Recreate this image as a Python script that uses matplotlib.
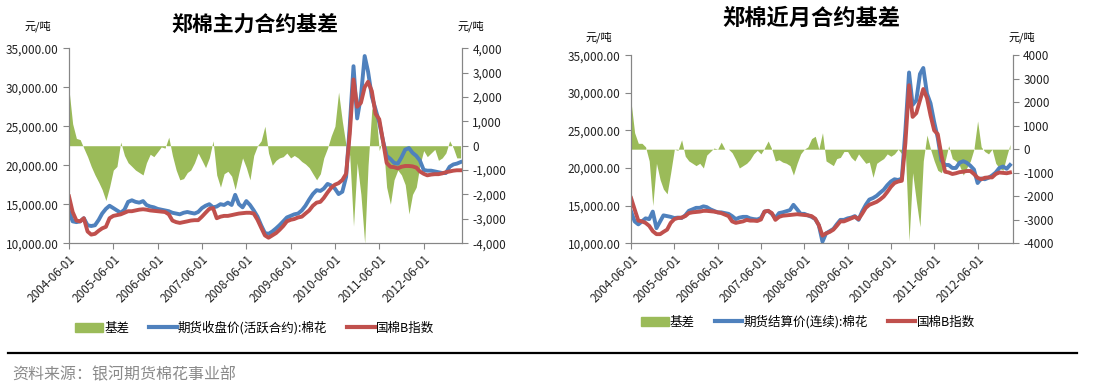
import matplotlib
matplotlib.use('Agg')
import matplotlib.pyplot as plt
from matplotlib.ticker import FuncFormatter
from matplotlib.patches import Patch
from matplotlib.lines import Line2D
import pandas as pd

plt.rcParams['font.family'] = ['Noto Sans CJK SC', 'DejaVu Sans']

GREEN = '#9bbb59'
BLUE = '#4f81bd'
RED = '#c0504d'
GRAY = '#868686'

# 郑棉主力合约: monthly readings 2004-06 .. 2013-04
main_fut = [14100, 12800, 12700, 12800, 13200, 12300, 12200, 12300, 13000, 13800,
            14400, 14800, 14500, 14200, 13900, 14300, 15300, 15500, 15300, 15200,
            15400, 14900, 14700, 14600, 14400, 14300, 14200, 14100, 13900, 13800,
            13700, 13900, 14000, 13900, 13800, 14000, 14500, 14800, 15000, 14600,
            14700, 15000, 14900, 15200, 14900, 16200, 15000, 14600, 15400, 14900,
            14200, 13400, 12300, 11300, 11200, 11500, 11900, 12300, 12800, 13300,
            13500, 13700, 13800, 14200, 14800, 15600, 16300, 16800, 16700, 17000,
            17600, 17400, 17000, 16300, 16600, 18500, 25000, 32700, 26000, 28800,
            34000, 32000, 28800, 27200, 25500, 23200, 21200, 20800, 20300, 20200,
            21000, 22000, 22200, 21600, 21200, 20600, 19400, 19300, 19300, 19200,
            19100, 19000, 19000, 19800, 20100, 20200, 20400]
main_idx = [16000, 14000, 12900, 12800, 13200, 11500, 11100, 11200, 11600, 11900,
            12100, 13200, 13500, 13600, 13700, 13900, 14100, 14100, 14200, 14300,
            14350, 14300, 14200, 14150, 14100, 14050, 14000, 13700, 12900, 12700,
            12600, 12700, 12800, 12900, 12950, 12950, 13400, 13900, 14400, 14500,
            13200, 13400, 13500, 13500, 13600, 13700, 13800, 13850, 13900, 13900,
            13800, 13000, 12000, 11000, 10700, 11000, 11300, 11700, 12200, 12800,
            13000, 13100, 13300, 13400, 13800, 14200, 14800, 15200, 15300, 15800,
            16500, 17100, 17500, 17700, 18100, 18900, 24000, 31000, 27500, 28000,
            30000, 30700, 29500, 26600, 25900, 23200, 20300, 19800, 19750, 19600,
            19800, 19900, 19900, 19850, 19700, 19200, 18900, 18700, 18800, 18850,
            18850, 18950, 19100, 19200, 19300, 19350, 19350]
main_basis = [2300, 900, 300, 250, -100, -450, -850, -1200, -1500, -1800,
              -2250, -1700, -1000, -850, 150, -400, -700, -850, -1000, -1100,
              -1200, -700, -350, -450, -250, -50, -100, 350, -400, -1000,
              -1400, -1350, -1100, -1000, -700, -300, -600, -900, -500, 200,
              -1200, -1700, -1150, -1050, -1250, -1800, -1100, -500, -900, -1400,
              -400, 0, 200, 800, -300, -800, -600, -500, -450, -300,
              -500, -400, -500, -650, -750, -900, -1150, -1400, -1150, -500,
              -100, 400, 800, 2200, 1000, 0, -400, -3300, -700, -2000,
              -4000, -800, 1500, 1600, -200, 300, -1700, -2400, -1400, -1000,
              -1200, -1600, -2800, -2000, -1700, -800, -200, -450, -300, -150,
              -600, -500, -300, 200, -100, -500, -500]

# 郑棉近月合约: monthly readings 2004-06 .. 2013-03
near_fut = [14200, 12900, 12500, 12900, 13300, 13200, 14200, 12000, 12900, 13700,
            13600, 13500, 13350, 13400, 13350, 13700, 14300, 14500, 14700, 14700,
            14900, 14800, 14500, 14300, 14100, 14100, 14000, 13900, 13600, 13200,
            13400, 13500, 13500, 13300, 13200, 13150, 13350, 14200, 14300, 13900,
            13350, 14000, 14100, 14250, 14400, 15100, 14500, 13900, 13900, 13700,
            13500, 13200, 12400, 10200, 11300, 11600, 11900, 12500, 13100, 13100,
            13300, 13400, 13600, 13100, 14200, 15100, 15800, 16000, 16300, 16700,
            17100, 17700, 18200, 18500, 18400, 18600, 25000, 32700, 28400, 29000,
            32500, 33300, 29900, 28600, 26100, 24000, 21000, 20400, 20400, 20000,
            20000, 20700, 20900, 20700, 20300, 19800, 18000, 18600, 18500, 18700,
            19000, 19400, 20000, 20200, 19900, 20400]
near_idx = [16000, 14500, 13000, 12900, 12700, 12300, 11600, 11200, 11200, 11500,
            11800, 12700, 13200, 13350, 13400, 13600, 14000, 14100, 14150, 14200,
            14300, 14300, 14250, 14200, 14100, 14000, 13800, 13600, 12900, 12700,
            12800, 12900, 13100, 13000, 13000, 12950, 13150, 14200, 14300, 14000,
            13100, 13500, 13650, 13700, 13750, 13800, 13850, 13800, 13750, 13700,
            13600, 13250, 12400, 11000, 11300, 11500, 11800, 12300, 12900, 12900,
            13100, 13300, 13500, 13200, 13900, 14700, 15100, 15300, 15500, 15800,
            16200, 16800, 17500, 18000, 18200, 18300, 23300, 31000, 26800, 27300,
            29000, 30500, 29300, 27000, 25000, 24500, 21700, 19500, 19400, 19200,
            19300, 19450, 19500, 19600, 19600, 19200, 18700, 18500, 18700, 18750,
            18750, 19200, 19400, 19350, 19300, 19400]
near_basis = [2000, 700, 250, 250, 100, -500, -2400, -600, -1300, -1700,
              -1900, -1000, 0, -50, 400, -300, -500, -600, -700, -600,
              -800, -250, -100, 50, 0, 300, 0, 0, -150, -450,
              -800, -700, -600, -450, -200, -50, -200, 50, 350, 0,
              -500, -450, -550, -600, -700, -1100, -600, -200, 0, 100,
              450, 550, 0, 700, -500, -600, -700, -400, -350, -100,
              -100, -350, -500, -200, -400, -600, -550, -1200, -600, -500,
              -400, -200, -300, -200, 0, -200, -100, -3900, -1000, -2200,
              -3300, -500, 600, 0, -500, -900, -1000, -500, 150, -400,
              -500, -700, -1100, -800, -500, 0, 1200, 100, -100, -200,
              0, -600, -800, -900, -300, 200]

tick_labels = ['2004-06-01', '2005-06-01', '2006-06-01', '2007-06-01', '2008-06-01',
               '2009-06-01', '2010-06-01', '2011-06-01', '2012-06-01']

fig = plt.figure(figsize=(11.13, 3.86), dpi=100)


def draw_panel(rect, fut, idx, basis, x_end, right_fmt):
    dates = pd.date_range('2004-06-01', periods=len(fut), freq='MS')
    ax = fig.add_axes(rect)
    axr = ax.twinx()
    # lines (left axis) on top of the basis area (right axis)
    ax.set_zorder(axr.get_zorder() + 1)
    ax.patch.set_visible(False)

    axr.fill_between(dates, 0, basis, color=GREEN, lw=0)
    ax.plot(dates, fut, color=BLUE, lw=2.8, solid_joinstyle='round')
    ax.plot(dates, idx, color=RED, lw=2.8, solid_joinstyle='round')

    ax.set_ylim(10000, 35000)
    ax.set_yticks(range(10000, 35001, 5000))
    ax.yaxis.set_major_formatter(FuncFormatter(lambda v, p: f'{v:,.2f}'))
    axr.set_ylim(-4000, 4000)
    axr.set_yticks(range(-4000, 4001, 1000))
    axr.yaxis.set_major_formatter(FuncFormatter(right_fmt))

    ax.set_xlim(pd.Timestamp('2004-06-01'), pd.Timestamp(x_end))
    ax.set_xticks(pd.to_datetime(tick_labels))
    ax.set_xticklabels(tick_labels, rotation=45, ha='right', rotation_mode='anchor')

    for a in (ax, axr):
        a.spines['top'].set_visible(False)
        for s in ('left', 'right', 'bottom'):
            a.spines[s].set_color(GRAY)
        a.tick_params(colors=GRAY, labelcolor='#222222', labelsize=8.5, length=4)
    ax.tick_params(axis='x', pad=3)
    return ax


draw_panel([0.062, 0.370, 0.353, 0.505], main_fut, main_idx, main_basis,
           '2013-04-12', lambda v, p: f'{v:,.0f}')
draw_panel([0.567, 0.370, 0.343, 0.487], near_fut, near_idx, near_basis,
           '2013-03-25', lambda v, p: f'{v:.0f}')

fig.text(0.229, 1 - 25 / 386, '郑棉主力合约基差', ha='center', va='center',
         fontsize=15, fontweight='bold')
fig.text(0.729, 1 - 18 / 386, '郑棉近月合约基差', ha='center', va='center',
         fontsize=16, fontweight='bold')
for x, y in [(38, 26), (471, 26), (599, 37), (1022, 37)]:
    fig.text(x / 1113, 1 - y / 386, '元/吨', ha='center', va='center', fontsize=8)


def legend(x, y, label):
    handles = [Patch(color=GREEN),
               Line2D([], [], color=BLUE, lw=3),
               Line2D([], [], color=RED, lw=3)]
    fig.legend(handles, ['基差', label, '国棉B指数'], loc='center',
               bbox_to_anchor=(x, y), ncol=3, frameon=False, fontsize=9,
               handlelength=2.2, handletextpad=0.1, columnspacing=1.6)


legend(0.229, 1 - 328 / 386, '期货收盘价(活跃合约):棉花')
legend(0.726, 1 - 322 / 386, '期货结算价(连续):棉花')

fig.add_artist(Line2D([0.007, 0.968], [1 - 353 / 386] * 2, transform=fig.transFigure,
                      color='black', lw=1.6))
fig.text(0.011, 1 - 375 / 386, '资料来源：银河期货棉花事业部', ha='left', va='center',
         fontsize=11.5, color='#8a8a8a')

fig.savefig('out.png', dpi=100)
